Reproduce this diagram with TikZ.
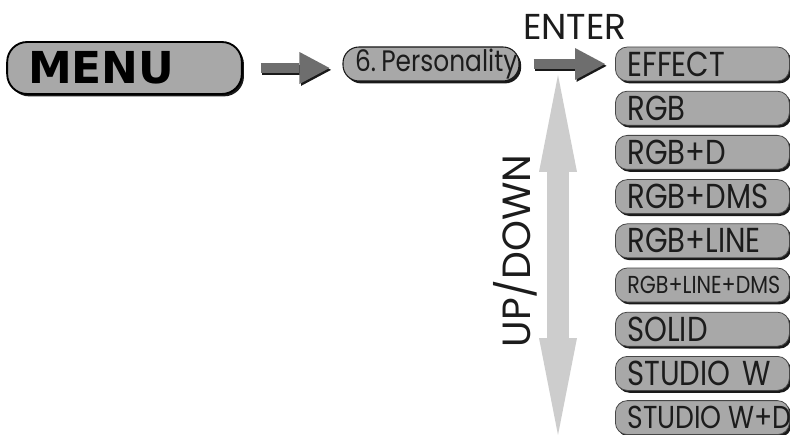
\documentclass[tikz,border=0pt]{standalone}
\usepackage{fontspec}
\setmainfont{Poppins}[FakeStretch=0.84]
\newfontfamily\widefont{Poppins}
\newfontfamily\menufont{DejaVu Sans}
\usetikzlibrary{arrows.meta}
\usetikzlibrary{shadows}

\definecolor{boxgray}{RGB}{168,168,168}
\definecolor{arrowgray}{RGB}{110,110,110}
\definecolor{lightarrow}{RGB}{205,205,205}
\definecolor{textdark}{RGB}{28,28,28}
\definecolor{rimdark}{RGB}{25,25,25}

\tikzset{
  boxshadow/.style={drop shadow={shadow xshift=1.6pt,shadow yshift=-1.8pt,opacity=1,fill=rimdark}},
  itembox/.style={boxshadow, draw=rimdark!80, line width=0.6pt, fill=boxgray, rounded corners=9pt,
    minimum width=130.5pt, minimum height=25.5pt, text width=112.5pt, inner xsep=9pt, inner ysep=0pt,
    align=left, anchor=west, text=textdark, font=\fontsize{26}{26}\selectfont},
  blockarrow/.style={line width=7.5pt, draw=arrowgray, -{Triangle[length=22.5pt,width=24pt,line width=0pt]}},
  blockshadow/.style={blockarrow, draw=rimdark, transform canvas={shift={(1.2pt,-1.4pt)}}},
}

\begin{document}
\begin{tikzpicture}[x=0.75pt,y=0.75pt,yscale=-1,xscale=1]
\useasboundingbox (0,0) rectangle (790,435);

%Shape: Rounded Rectangle [id:menu]
\node [boxshadow, draw=black, line width=1.4pt, fill=boxgray, rounded corners=15pt, minimum width=176pt, minimum height=39pt,
  text width=144.5pt, inner xsep=15.75pt, align=left, font=\menufont\bfseries\fontsize{33}{34}\selectfont, text=black] (menu) at (124.5,68) {MENU};
%Shape: Rounded Rectangle [id:personality]
\node [boxshadow, draw=rimdark, line width=0.8pt, fill=boxgray, rounded corners=12pt, minimum width=132pt, minimum height=25.5pt,
  text width=114pt, inner xsep=9pt, inner ysep=0pt, align=left, text=textdark, font=\fontsize{22.2}{23}\selectfont] (pers) at (431,64) {\mbox{6.\hspace{0.18em}Personality}};

%Shape: Rounded Rectangle [id:menu items]
\node [itembox] (effect) at (615,64) {EFFECT};
\node [itembox] (rgb) at (615,108.2) {RGB};
\node [itembox] (rgbd) at (615,152.4) {RGB+D};
\node [itembox] (rgbdms) at (615,196.6) {RGB+DMS};
\node [itembox] (rgbline) at (615,240.8) {RGB+LINE};
\node [itembox, font=\fontsize{18.4}{19}\selectfont] (rgblinedms) at (615,285) {RGB+LINE+DMS};
\node [itembox] (solid) at (615,329.2) {SOLID};
\node [itembox] (studiow) at (615,373.4) {\mbox{STUDIO W}};
\node [itembox, font=\fontsize{23.8}{24}\selectfont] (studiowd) at (615,417.6) {\mbox{STUDIO\hspace{0.2em}W+D}};

%Straight Lines [id:menu to personality]
\draw [blockshadow, shorten <=13.5pt, shorten >=9.75pt] (menu.east) -- (menu.east -| pers.west);
\draw [blockarrow, shorten <=13.5pt, shorten >=9.75pt] (menu.east) -- (menu.east -| pers.west);
%Straight Lines [id:personality to effect]
\draw [blockshadow, shorten <=10.5pt, shorten >=7.5pt] (pers.east) -- (pers.east -| effect.west);
\draw [blockarrow, shorten <=10.5pt, shorten >=7.5pt] (pers.east) -- (pers.east -| effect.west);

%Straight Lines [id:up down]
\coordinate (uptip) at (558,75);
\coordinate (downtip) at (558,435);
\draw [line width=16.5pt, draw=lightarrow, {Triangle[length=72.75pt,width=28.5pt,line width=0pt]}-{Triangle[length=72.75pt,width=28.5pt,line width=0pt]}] (uptip) -- (downtip);

% Text Node
\node [text=textdark, font=\widefont\fontsize{27}{28}\selectfont, inner sep=0pt] (enter) at (575,27) {ENTER};
% Text Node
\node [rotate=90, text=textdark, font=\widefont\fontsize{29.5}{30}\selectfont, inner sep=0pt] (updown) at (515,251) {UP/DOWN};

\end{tikzpicture}
\end{document}
